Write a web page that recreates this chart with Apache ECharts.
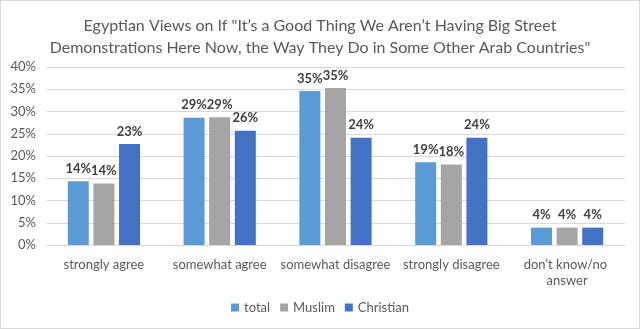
<!DOCTYPE html>
<html><head><meta charset="utf-8">
<script src="https://cdn.jsdelivr.net/npm/echarts@6/dist/echarts.min.js"></script>
<style>html,body{margin:0;padding:0;background:#fff}#c{width:638px;height:327px;border:1px solid #d9d9d9}</style>
</head><body><div id="c"></div>
<script>
const titleLines = ['Egyptian Views on If "It’s a Good Thing We Aren’t Having Big Street', 'Demonstrations Here Now, the Way They Do in Some Other Arab Countries"'];
const categories = ['strongly agree', 'somewhat agree', 'somewhat disagree', 'strongly disagree', 'don’t know/no answer'];
const seriesNames = ['total', 'Muslim', 'Christian'];
const totalValues = [14.3, 28.6, 34.6, 18.6, 3.9];
const muslimValues = [13.8, 28.7, 35.3, 18.1, 3.9];
const christianValues = [22.7, 25.7, 24.1, 24.1, 3.9];
const yTicks = [0, 5, 10, 15, 20, 25, 30, 35, 40];

const colors = ['#5B9BD5', '#A5A5A5', '#4472C4'];
const font = 'Lato, "Open Sans", sans-serif';
const chart = echarts.init(document.getElementById('c'));
const mk = (name, data, i) => ({
  name, type: 'bar', data, barWidth: 21, barGap: '22%',
  itemStyle: { color: colors[i] },
  label: { show: true, position: 'top', distance: 6, formatter: p => Math.round(p.value) + '%',
    color: '#404040', fontWeight: 'bold', fontSize: 13, fontFamily: font }
});
chart.setOption({
  animation: false,
  textStyle: { fontFamily: font },
  title: { text: titleLines.join('\n'), left: 'center', top: 9,
    textStyle: { fontSize: 16, fontWeight: 'normal', color: '#595959', lineHeight: 22, fontFamily: font } },
  legend: { data: seriesNames, bottom: 9, left: 'center', itemWidth: 8, itemHeight: 8, itemGap: 10,
    icon: 'rect', textStyle: { color: '#595959', fontSize: 13, fontFamily: font } },
  grid: { left: 45, right: 14, top: 66, bottom: 83, containLabel: false },
  xAxis: { type: 'category', data: categories,
    axisLine: { lineStyle: { color: '#d9d9d9' } }, axisTick: { show: false },
    axisLabel: { color: '#595959', fontSize: 13, fontFamily: font, margin: 12, width: 116, overflow: 'break', lineHeight: 16, interval: 0 } },
  yAxis: { type: 'value', min: yTicks[0], max: yTicks[yTicks.length - 1], interval: 5,
    axisLine: { show: false }, axisTick: { show: false },
    splitLine: { lineStyle: { color: '#d9d9d9' } },
    axisLabel: { color: '#595959', fontSize: 13, fontFamily: font, formatter: v => v + '%', margin: 10 } },
  series: [mk(seriesNames[0], totalValues, 0), mk(seriesNames[1], muslimValues, 1), mk(seriesNames[2], christianValues, 2)]
});
</script></body></html>
